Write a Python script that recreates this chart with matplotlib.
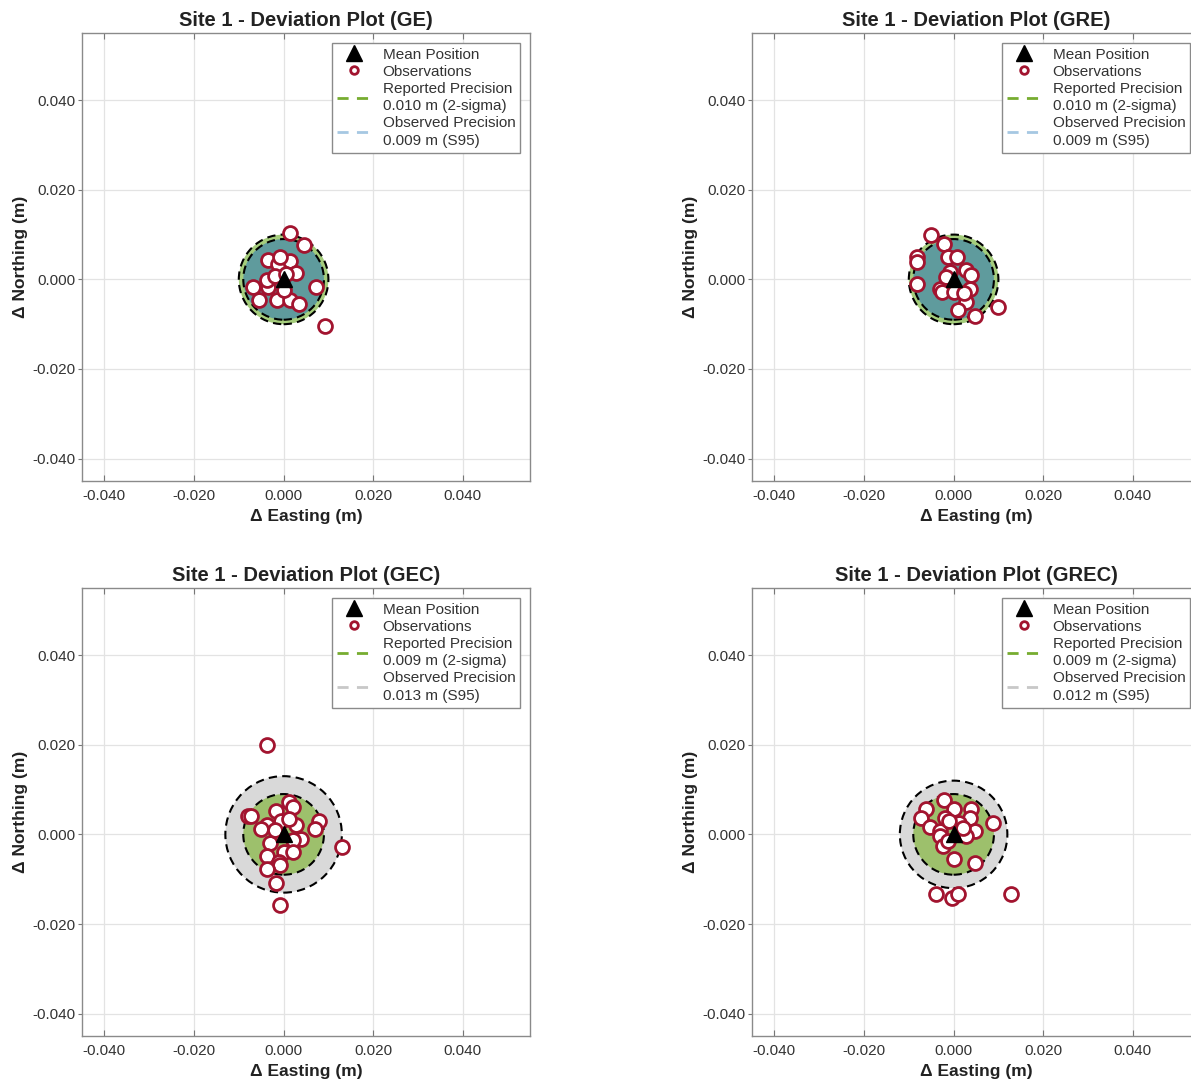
import numpy as np
import matplotlib
matplotlib.use("Agg")
import matplotlib.pyplot as plt
from matplotlib.patches import Circle
from matplotlib.lines import Line2D
from matplotlib.ticker import FormatStrFormatter

plt.rcParams['font.family'] = ['Liberation Sans', 'DejaVu Sans']

site = "Site 1"
solutions = ["GE", "GRE", "GEC", "GREC"]
reported_prec = [0.010, 0.010, 0.009, 0.009]
observed_prec = [0.009, 0.009, 0.013, 0.012]

# observation deviations (m) from the mean position
ge_e = [0.0015, 0.0045, 0.0093, 0.0073, -0.0035, -0.0013, 0.0015, 0.0027, -0.0009, -0.0068,
        -0.0035, -0.0038, -0.0055, -0.0015, 0.0015, 0.0034, 0.0002, -0.0020, 0.0005]
ge_n = [0.0103, 0.0076, -0.0105, -0.0017, 0.0044, 0.0035, 0.0042, 0.0015, 0.0050, -0.0017,
        -0.0017, -0.0002, -0.0045, -0.0045, -0.0045, -0.0056, -0.0024, 0.0008, 0.0012]
gre_e = [-0.0051, -0.0022, -0.0081, -0.0081, -0.0081, -0.0013, 0.0008, -0.0009, 0.0028, 0.0038,
         0.0036, -0.0031, -0.0027, 0.0002, 0.0028, 0.0010, 0.0047, 0.0098, -0.0016, 0.0024]
gre_n = [0.0098, 0.0079, 0.0050, 0.0039, -0.0011, 0.0050, 0.0050, 0.0016, 0.0020, 0.0009,
         -0.0021, -0.0021, -0.0028, -0.0028, -0.0051, -0.0069, -0.0082, -0.0062, 0.0005, -0.0030]
gec_e = [-0.0038, -0.0009, 0.0130, 0.0011, 0.0021, -0.0018, -0.0079, -0.0072, 0.0080, 0.0069,
         -0.0038, -0.0050, 0.0028, 0.0039, 0.0021, -0.0031, 0.0000, 0.0021, -0.0038, -0.0010,
         -0.0009, -0.0038, -0.0018, -0.0005, -0.0020, 0.0012]
gec_n = [0.0200, -0.0158, -0.0028, 0.0072, 0.0061, 0.0053, 0.0042, 0.0040, 0.0031, 0.0013,
         0.0022, 0.0013, 0.0022, -0.0010, -0.0013, -0.0019, -0.0039, -0.0039, -0.0049, -0.0062,
         -0.0069, -0.0077, -0.0108, 0.0031, 0.0009, 0.0034]
grec_e = [-0.0022, -0.0061, -0.0072, 0.0000, 0.0039, 0.0036, -0.0020, 0.0087, -0.0053, -0.0031,
          0.0013, 0.0047, 0.0028, -0.0031, -0.0024, -0.0013, 0.0000, 0.0047, -0.0040, -0.0003,
          0.0010, 0.0128, -0.0010, 0.0020]
grec_n = [0.0076, 0.0056, 0.0037, 0.0056, 0.0056, 0.0037, 0.0037, 0.0026, 0.0017, 0.0007,
          0.0026, 0.0007, -0.0004, -0.0004, -0.0026, -0.0015, -0.0054, -0.0063, -0.0134, -0.0143,
          -0.0134, -0.0134, 0.0030, 0.0015]

obs_e = [ge_e, gre_e, gec_e, grec_e]
obs_n = [ge_n, gre_n, gec_n, grec_n]

# colours
red = '#A2142F'
green_line = '#77AC30'
green_fill = ['#a5cd7c', '#a5cd7c', '#9dc06c', '#9dc06c']
obs_fill = ['#5f9b9d', '#5f9b9d', '#d9d9d9', '#d9d9d9']
obs_line = ['#a6c8e2', '#a6c8e2', '#c8c8c8', '#c8c8c8']

W, H = 1191, 1080
fig = plt.figure(figsize=(W / 100, H / 100), dpi=100)
boxes = [(82, 33), (752, 33), (82, 588), (752, 588)]
size = 448

for i, sol in enumerate(solutions):
    x0, y0 = boxes[i]
    ax = fig.add_axes([x0 / W, 1 - (y0 + size) / H, size / W, size / H])
    ax.set_xlim(-0.045, 0.055)
    ax.set_ylim(-0.045, 0.055)
    ax.set_xticks([-0.04, -0.02, 0, 0.02, 0.04])
    ax.set_yticks([-0.04, -0.02, 0, 0.02, 0.04])
    ax.xaxis.set_major_formatter(FormatStrFormatter('%.3f'))
    ax.yaxis.set_major_formatter(FormatStrFormatter('%.3f'))
    ax.grid(True, color='#e3e3e3', linewidth=0.9)
    ax.set_axisbelow(True)
    for s in ax.spines.values():
        s.set_color('#8a8a8a')
        s.set_linewidth(1.0)
    ax.tick_params(axis='x', direction='in', top=True, length=4, color='#777777',
                   labelsize=11, labelcolor='#333333', pad=6)
    ax.tick_params(axis='y', direction='out', right=False, length=3, color='#777777',
                   labelsize=11, labelcolor='#333333', pad=1.5)

    rep = reported_prec[i]
    obs = observed_prec[i]
    circles = [(rep, green_fill[i]), (obs, obs_fill[i])]
    circles.sort(key=lambda c: -c[0])
    for k, (r, fc) in enumerate(circles):
        ax.add_patch(Circle((0, 0), r, facecolor=fc, edgecolor='black',
                            linestyle=(0, (4, 2.5)), linewidth=1.5, zorder=2 + k))

    ax.plot(obs_e[i], obs_n[i], 'o', markersize=10, markerfacecolor='white',
            markeredgecolor=red, markeredgewidth=2, linestyle='none', zorder=5)
    ax.plot([0], [0], '^', markersize=12, color='black', zorder=6)

    ax.set_title(f'{site} - Deviation Plot ({sol})', fontsize=14.5, fontweight='bold',
                 color='#222222', pad=5)
    ax.set_xlabel('Δ Easting (m)', fontsize=12.5, fontweight='bold', color='#222222', labelpad=4)
    ax.set_ylabel('Δ Northing (m)', fontsize=12.5, fontweight='bold', color='#222222', labelpad=3)

    handles = [
        Line2D([], [], marker='^', color='black', linestyle='none', markersize=12),
        Line2D([], [], marker='o', markerfacecolor='white', markeredgecolor=red,
               markeredgewidth=2, markersize=5.5, linestyle='none'),
        Line2D([], [], color=green_line, linestyle=(0, (4, 3)), linewidth=2),
        Line2D([], [], color=obs_line[i], linestyle=(0, (4, 3)), linewidth=2),
    ]
    labels = ['Mean Position', 'Observations',
              f'Reported Precision\n{rep:.3f} m (2-sigma)',
              f'Observed Precision\n{obs:.3f} m (S95)']
    leg = ax.legend(handles, labels, loc='upper right', fontsize=11, frameon=True,
                    fancybox=False, edgecolor='#8a8a8a', framealpha=1,
                    borderaxespad=0.65, handlelength=2.3, handletextpad=0.7,
                    labelspacing=0.2, borderpad=0.3)
    leg.get_frame().set_linewidth(1.0)
    for t in leg.get_texts():
        t.set_color('#333333')
        t.set_linespacing(1.34)

fig.savefig('out.png', dpi=100)
